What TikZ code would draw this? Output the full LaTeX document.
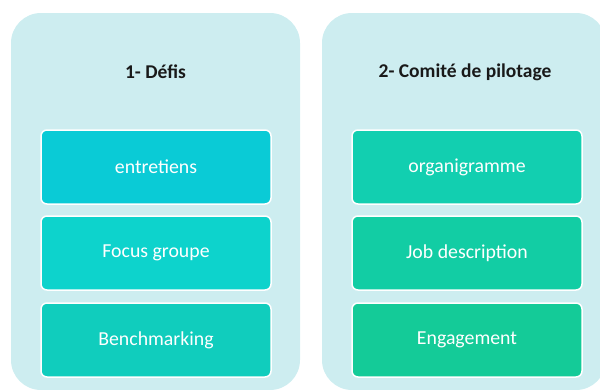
\documentclass[tikz,border=0pt]{standalone}
\usepackage{fontspec}
\setmainfont{Carlito}
\definecolor{panelbg}{HTML}{CDEDF0}
\definecolor{cA}{HTML}{0ACBD6}
\definecolor{cB}{HTML}{0DD3CC}
\definecolor{cC}{HTML}{10CDBD}
\definecolor{cD}{HTML}{12CFB0}
\definecolor{cE}{HTML}{12CDA4}
\definecolor{cF}{HTML}{14CB98}
\begin{document}
\begin{tikzpicture}[x=1pt,y=-1pt,
  panel/.style={fill=panelbg,draw=none,rounded corners=30pt},
  itembox/.style={draw=white,line width=1.5pt,rounded corners=6pt,
    minimum width=230pt,minimum height=74pt,inner sep=0pt,
    text=white,font=\fontsize{19.8}{23}\selectfont},
  paneltitle/.style={font=\fontsize{19.5}{23}\selectfont\bfseries,text=black!90}]
\useasboundingbox (0,0) rectangle (600,389);
\begin{scope}
\clip (0,0) rectangle (600,389);
\fill[panel] (11,13) rectangle (300,390);
\fill[panel] (322,13) rectangle (606,390);
\end{scope}
\node[paneltitle] (t1) at (155.5,72) {1- Défis};
\node[paneltitle] (t2) at (465,72) {2- Comité de pilotage};
\node[itembox,fill=cA] (a1) at (156,167) {entretiens};
\node[itembox,fill=cB] (a2) at (156,253) {Focus groupe};
\node[itembox,fill=cC] (a3) at (156,340) {Benchmarking};
\node[itembox,fill=cD] (b1) at (467,167) {organigramme};
\node[itembox,fill=cE] (b2) at (467,253) {Job description};
\node[itembox,fill=cF] (b3) at (467,340) {Engagement};
\end{tikzpicture}
\end{document}
